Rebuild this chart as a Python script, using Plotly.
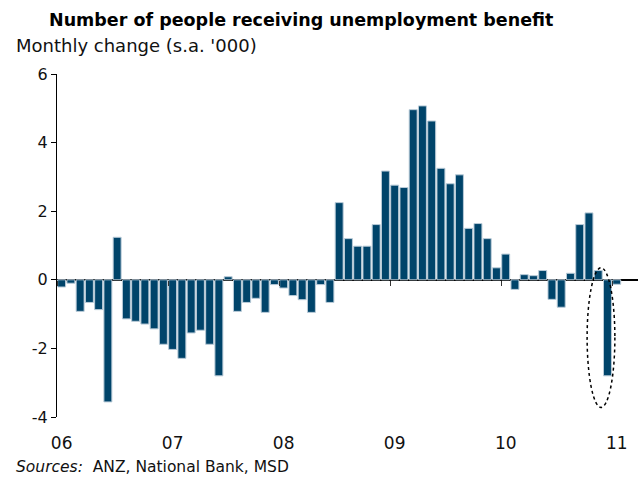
import plotly.graph_objects as go

# Monthly change in number of people receiving unemployment benefit ('000, s.a.)
# Jan 2006 .. Jan 2011
values_2006 = [-0.21, -0.10, -0.92, -0.66, -0.87, -3.56, 1.24, -1.14, -1.21, -1.29, -1.43, -1.88]
values_2007 = [-2.03, -2.29, -1.55, -1.47, -1.88, -2.80, 0.09, -0.92, -0.66, -0.54, -0.95, -0.14]
values_2008 = [-0.24, -0.46, -0.58, -0.95, -0.14, -0.66, 2.25, 1.20, 0.98, 0.98, 1.61, 3.17]
values_2009 = [2.76, 2.69, 4.96, 5.07, 4.63, 3.25, 2.80, 3.06, 1.50, 1.64, 1.20, 0.35]
values_2010 = [0.75, -0.28, 0.15, 0.12, 0.27, -0.57, -0.80, 0.19, 1.61, 1.95, 0.27, -2.80]
values_2011 = [-0.13]

year_labels = ["06", "07", "08", "09", "10", "11"]
y_ticks = [6, 4, 2, 0, -2, -4]

values = values_2006 + values_2007 + values_2008 + values_2009 + values_2010 + values_2011
months = [i + 0.5 for i in range(len(values))]  # month index, bar centred in its month
year_starts = [12 * k for k in range(len(year_labels))]

FONT = "DejaVu Sans, Verdana, sans-serif"
BAR = "#00446A"

fig = go.Figure()
fig.add_trace(go.Bar(
    x=months, y=values,
    marker=dict(color=BAR, line=dict(color="#b9cbd8", width=1)),
    width=0.86,
    hoverinfo="y",
))

x_range = [0, 62.8]
y_range = [-4, 6]

fig.update_layout(
    width=641, height=478,
    margin=dict(l=57, r=3, t=74, b=61),
    paper_bgcolor="white", plot_bgcolor="white",
    showlegend=False,
    font=dict(family=FONT, size=16, color="black"),
    xaxis=dict(
        range=x_range,
        tickmode="array",
        tickvals=[s + 0.5 for s in year_starts],
        ticktext=year_labels,
        ticks="", showline=False, showgrid=False, zeroline=False,
        tickfont=dict(family=FONT, size=17, color="#111"),
        ticklabelstandoff=14,
    ),
    xaxis2=dict(
        range=x_range, overlaying="x", anchor="free",
        position=(0 - y_range[0]) / (y_range[1] - y_range[0]),
        side="bottom",
        tickmode="array", tickvals=year_starts,
        ticks="outside", ticklen=5, tickcolor="#333", tickwidth=1,
        showticklabels=False, showline=False, showgrid=False, zeroline=False,
    ),
    yaxis=dict(
        range=y_range,
        tickmode="array", tickvals=y_ticks,
        ticktext=[str(v) if v >= 0 else "-" + str(abs(v)) for v in y_ticks],
        ticks="outside", ticklen=5, tickcolor="black", tickwidth=1,
        showline=True, linecolor="black", linewidth=1,
        showgrid=False,
        zeroline=True, zerolinecolor="black", zerolinewidth=1.5,
        tickfont=dict(family=FONT, size=16, color="#111"),
    ),
)

# invisible trace on xaxis2 so it is drawn
fig.add_trace(go.Scatter(x=[x_range[0]], y=[0], xaxis="x2", mode="markers",
                         marker=dict(opacity=0), hoverinfo="skip"))

fig.add_annotation(
    text="<b>Number of people receiving unemployment benefit</b>",
    xref="paper", yref="paper", x=(301 - 57) / 581, y=(417 - 20) / 343,
    xanchor="center", yanchor="middle",
    showarrow=False, font=dict(family=FONT, size=17.5, color="black"),
)
fig.add_annotation(
    text="Monthly change (s.a. '000)",
    xref="paper", yref="paper", x=(14 - 57) / 581, y=(417 - 46) / 343,
    xanchor="left", yanchor="middle",
    showarrow=False, font=dict(family=FONT, size=18, color="#111"),
)
fig.add_annotation(
    text="<i>Sources:</i>  ANZ, National Bank, MSD",
    xref="paper", yref="paper", x=(14 - 57) / 581, y=(417 - 467) / 343,
    xanchor="left", yanchor="middle",
    showarrow=False, font=dict(family=FONT, size=15.5, color="#111"),
)

# dotted ellipse highlighting the latest fall
last_idx = len(values) - 2
fig.add_shape(
    type="circle", xref="x", yref="y",
    x0=months[last_idx] - 2.2, x1=months[last_idx] + 0.8,
    y0=values[last_idx] - 0.92, y1=0.35,
    line=dict(color="black", width=1.5, dash="dot"),
)

fig.write_html("out.html")
